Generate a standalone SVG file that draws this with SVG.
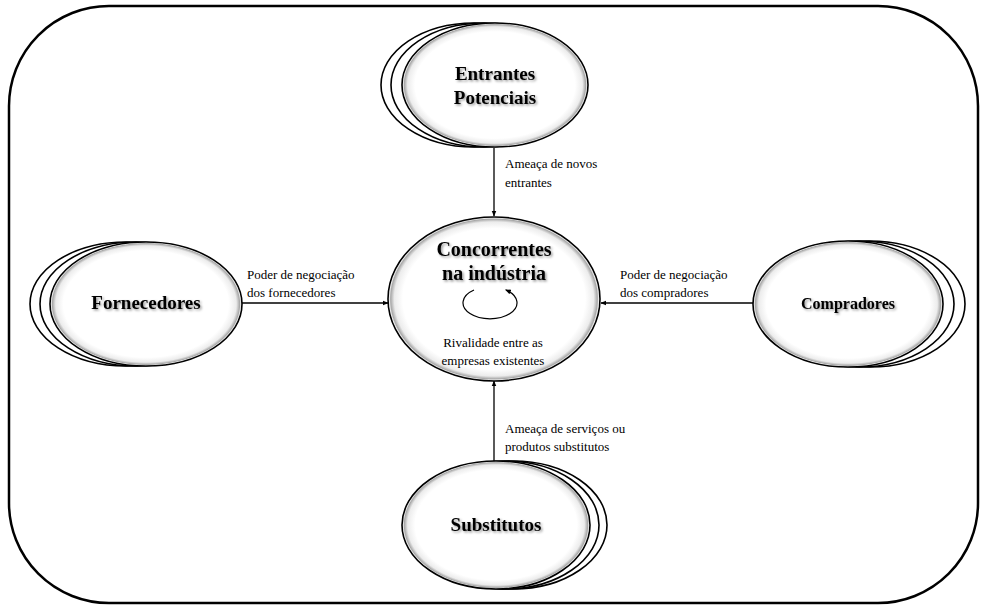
<svg xmlns="http://www.w3.org/2000/svg" width="981" height="606" viewBox="0 0 981 606">
  <style>
    .frame { fill: #ffffff; stroke: #000000; stroke-width: 2.5; }
    .disc { fill: url(#discFill); stroke: #000000; stroke-width: 1.6; }
    .ring { fill: #ffffff; stroke: #000000; stroke-width: 1.6; }
    .title { font-family: "Liberation Serif", "Times New Roman", serif; font-weight: bold; fill: #000000; text-anchor: middle; filter: url(#textShadow); }
    .label { font-family: "Liberation Serif", "Times New Roman", serif; font-size: 13px; fill: #000000; }
    .link { stroke: #000000; stroke-width: 1.3; fill: none; marker-end: url(#arrow); }
  </style>
  <defs>
    <!-- white face with a soft grey rim just inside the outline -->
    <radialGradient id="discFill" cx="50%" cy="50%" r="50%">
      <stop offset="0%" stop-color="#ffffff"/>
      <stop offset="86%" stop-color="#ffffff"/>
      <stop offset="94%" stop-color="#ececec"/>
      <stop offset="97.5%" stop-color="#a8a8a8"/>
      <stop offset="99%" stop-color="#ffffff"/>
      <stop offset="100%" stop-color="#ffffff"/>
    </radialGradient>
    <filter id="textShadow" x="-10%" y="-30%" width="120%" height="160%">
      <feDropShadow dx="1.5" dy="1.5" stdDeviation="1.2" flood-color="#000000" flood-opacity="0.4"/>
    </filter>
    <marker id="arrow" viewBox="0 0 10 10" refX="9" refY="5" markerWidth="6" markerHeight="6" orient="auto" markerUnits="userSpaceOnUse">
      <path d="M0,1 L10,5 L0,9 Z" fill="#000000"/>
    </marker>
    <marker id="turn" viewBox="0 0 10 10" refX="8" refY="5" markerWidth="6" markerHeight="6" orient="auto" markerUnits="userSpaceOnUse">
      <path d="M0,1 L10,5 L0,9 Z" fill="#000000"/>
    </marker>
  </defs>

  <!-- outer frame -->
  <rect class="frame" x="9" y="6" width="969" height="597" rx="100" ry="100"/>

  <!-- connectors -->
  <g id="connectors">
    <line class="link" x1="494" y1="148" x2="494" y2="216"/>
    <line class="link" x1="242" y1="303" x2="388" y2="303"/>
    <line class="link" x1="754" y1="303" x2="601" y2="303"/>
    <line class="link" x1="494" y1="461" x2="494" y2="381"/>
    <text class="label" x="505" y="168">Ameaça de novos</text>
    <text class="label" x="505" y="187">entrantes</text>
    <text class="label" x="247" y="279">Poder de negociação</text>
    <text class="label" x="247" y="297">dos fornecedores</text>
    <text class="label" x="620" y="279">Poder de negociação</text>
    <text class="label" x="620" y="297">dos compradores</text>
    <text class="label" x="505" y="433">Ameaça de serviços ou</text>
    <text class="label" x="505" y="451">produtos substitutos</text>
  </g>

  <!-- Entrantes Potenciais -->
  <g id="entrantes">
    <ellipse class="ring" cx="474" cy="85" rx="93" ry="62"/>
    <ellipse class="ring" cx="484" cy="85" rx="93" ry="62"/>
    <ellipse class="disc" cx="495" cy="85" rx="93" ry="62"/>
    <text class="title" x="495" y="80" font-size="19">Entrantes</text>
    <text class="title" x="495" y="104" font-size="19">Potenciais</text>
  </g>

  <!-- Fornecedores -->
  <g id="fornecedores">
    <ellipse class="ring" cx="126" cy="304" rx="96" ry="62"/>
    <ellipse class="ring" cx="136" cy="304" rx="96" ry="62"/>
    <ellipse class="disc" cx="146" cy="304" rx="96" ry="62"/>
    <text class="title" x="146" y="309" font-size="19">Fornecedores</text>
  </g>

  <!-- Compradores -->
  <g id="compradores">
    <ellipse class="ring" cx="870" cy="304" rx="95" ry="63"/>
    <ellipse class="ring" cx="859" cy="304" rx="95" ry="63"/>
    <ellipse class="disc" cx="848" cy="304" rx="95" ry="63"/>
    <text class="title" x="848" y="309" font-size="16">Compradores</text>
  </g>

  <!-- Substitutos -->
  <g id="substitutos">
    <ellipse class="ring" cx="513" cy="525" rx="94" ry="64"/>
    <ellipse class="ring" cx="505" cy="525" rx="94" ry="64"/>
    <ellipse class="disc" cx="496" cy="525" rx="94" ry="64"/>
    <text class="title" x="496" y="531" font-size="19">Substitutos</text>
  </g>

  <!-- Concorrentes na indústria -->
  <g id="concorrentes">
    <ellipse class="disc" cx="494" cy="299" rx="106" ry="82"/>
    <text class="title" x="494" y="256" font-size="20">Concorrentes</text>
    <text class="title" x="494" y="280" font-size="20">na indústria</text>
    <path d="M474,290 A27,16 0 1 0 506,290" fill="none" stroke="#000000" stroke-width="1.2" marker-end="url(#turn)"/>
    <text class="label" x="493" y="347" text-anchor="middle" font-size="13">Rivalidade entre as</text>
    <text class="label" x="493" y="365" text-anchor="middle" font-size="13">empresas existentes</text>
  </g>
</svg>
